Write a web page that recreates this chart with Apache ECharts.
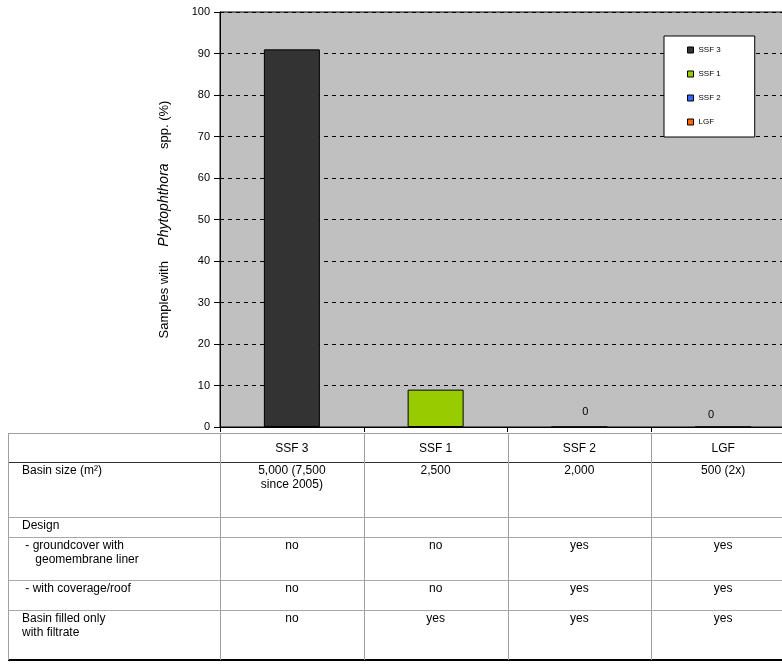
<!DOCTYPE html>
<html>
<head>
<meta charset="utf-8">
<script src="https://cdn.jsdelivr.net/npm/echarts@6/dist/echarts.min.js"></script>
<style>
  html, body { margin: 0; padding: 0; background: #fff; }
  #chart { width: 782px; height: 664px; }
</style>
</head>
<body>
<div id="chart"></div>
<script>
// Filter systems and share of samples with Phytophthora (%)
const categories = ['SSF 3', 'SSF 1', 'SSF 2', 'LGF'];
const detectionPct = [91, 9, 0, 0];
const seriesColors = ['#333333', '#99cc00', '#3366ff', '#ff6600'];
const yTicks = [0, 10, 20, 30, 40, 50, 60, 70, 80, 90, 100];

// Design table below the chart
const rowLabels = [
  'Basin size (m\u00b2)',
  'Design',
  ' - groundcover with\n    geomembrane liner',
  ' - with coverage/roof',
  'Basin filled only\nwith filtrate'
];
const basinSize = ['5,000 (7,500\nsince 2005)', '2,500', '2,000', '500 (2x)'];
const designRow = ['', '', '', ''];
const groundcover = ['no', 'no', 'yes', 'yes'];
const coverage = ['no', 'no', 'yes', 'yes'];
const filtrateOnly = ['no', 'yes', 'yes', 'yes'];
const tableRows = [basinSize, designRow, groundcover, coverage, filtrateOnly];

const FONT = '"Liberation Sans", Arial, sans-serif';
const GRID = { left: 220, top: 12, width: 575, height: 415 };
// small nudges of the zero-value labels
const zeroLabelOffset = [[0, 0], [0, 0], [6, 0], [-12, 3]];

const chart = echarts.init(document.getElementById('chart'), null, { renderer: 'canvas' });

const series = categories.map((name, i) => ({
  name: name,
  type: 'bar',
  stack: 'all',
  barWidth: 56,
  itemStyle: { color: seriesColors[i], borderColor: '#000', borderWidth: 1 },
  label: {
    show: detectionPct[i] === 0,
    position: 'top',
    distance: 9,
    offset: zeroLabelOffset[i],
    color: '#000',
    fontFamily: FONT,
    fontSize: 11,
    formatter: '{c}'
  },
  data: categories.map((_, j) => (j === i ? detectionPct[i] : '-'))
}));

// Table geometry: column borders follow the category bands of the x axis
const colW = GRID.width / categories.length;
const colX = [8].concat(categories.map((_, i) => GRID.left + i * colW)).concat([GRID.left + categories.length * colW]);
const rowY = [433, 462, 517, 537, 580, 610, 660];

const graphics = [];
function hline(y, color, w) {
  graphics.push({ type: 'line', shape: { x1: 8, y1: y, x2: 782, y2: y }, style: { stroke: color, lineWidth: w }, silent: true });
}
function vline(x, y1, y2, color) {
  graphics.push({ type: 'line', shape: { x1: x, y1: y1, x2: x, y2: y2 }, style: { stroke: color, lineWidth: 1 }, silent: true });
}
function txt(x, y, s, align, vAlign) {
  graphics.push({
    type: 'text', x: x, y: y, silent: true,
    style: { text: s, fill: '#000', font: '12px ' + FONT, align: align, verticalAlign: vAlign, lineHeight: 14 }
  });
}

hline(rowY[0] + 0.5, '#a0a0a0', 1);
hline(rowY[1] + 0.5, '#333333', 1.2);
for (let r = 2; r < rowY.length - 1; r++) hline(rowY[r] + 0.5, '#a8a8a8', 1);
hline(rowY[rowY.length - 1], '#000', 2);
colX.slice(0, colX.length - 1).forEach(x => vline(Math.round(x) + 0.5, rowY[0], rowY[rowY.length - 1], '#a0a0a0'));

// header row
categories.forEach((c, i) => txt(colX[i + 1] + colW / 2, (rowY[0] + rowY[1]) / 2 + 1, c, 'center', 'middle'));
// body rows
rowLabels.forEach((lab, r) => {
  const top = rowY[r + 1] + 2;
  txt(22, top, lab, 'left', 'top');
  tableRows[r].forEach((v, i) => txt(colX[i + 1] + colW / 2, top, v, 'center', 'top'));
});

chart.setOption({
  animation: false,
  backgroundColor: '#ffffff',
  grid: Object.assign({
    show: true, backgroundColor: '#c0c0c0', borderColor: '#000', borderWidth: 1,
    outerBoundsMode: 'none', containLabel: false
  }, GRID),
  legend: {
    orient: 'vertical',
    left: 664,
    top: 36,
    padding: [9, 34, 10, 23],
    itemWidth: 6,
    itemHeight: 6,
    itemGap: 14,
    backgroundColor: '#ffffff',
    borderColor: '#000',
    borderWidth: 1,
    textStyle: { fontFamily: FONT, fontSize: 8, color: '#000', lineHeight: 10 },
    data: categories.map(c => ({ name: c, icon: 'rect', itemStyle: { borderColor: '#000', borderWidth: 1 } }))
  },
  xAxis: {
    type: 'category',
    data: categories,
    axisLine: { lineStyle: { color: '#000', width: 1 } },
    axisTick: { show: true, length: 5, lineStyle: { color: '#000' } },
    axisLabel: { show: false },
    splitLine: { show: false }
  },
  yAxis: {
    type: 'value',
    min: yTicks[0],
    max: yTicks[yTicks.length - 1],
    interval: yTicks[1] - yTicks[0],
    name: '{a|Samples with    }{b|Phytophthora}{a|    spp. (%)}',
    nameLocation: 'middle',
    nameRotate: 90,
    nameGap: 49,
    nameTextStyle: {
      rich: {
        a: { fontFamily: FONT, fontSize: 13, color: '#000' },
        b: { fontFamily: FONT, fontSize: 14, fontStyle: 'italic', color: '#000' }
      }
    },
    axisLine: { show: true, lineStyle: { color: '#000', width: 1 } },
    axisTick: { show: true, length: 6, lineStyle: { color: '#000' } },
    axisLabel: { fontFamily: FONT, fontSize: 11, color: '#000', margin: 10 },
    splitLine: { show: true, lineStyle: { color: '#000', type: [4, 4], width: 1 } }
  },
  series: series,
  graphic: graphics
});
</script>
</body>
</html>
